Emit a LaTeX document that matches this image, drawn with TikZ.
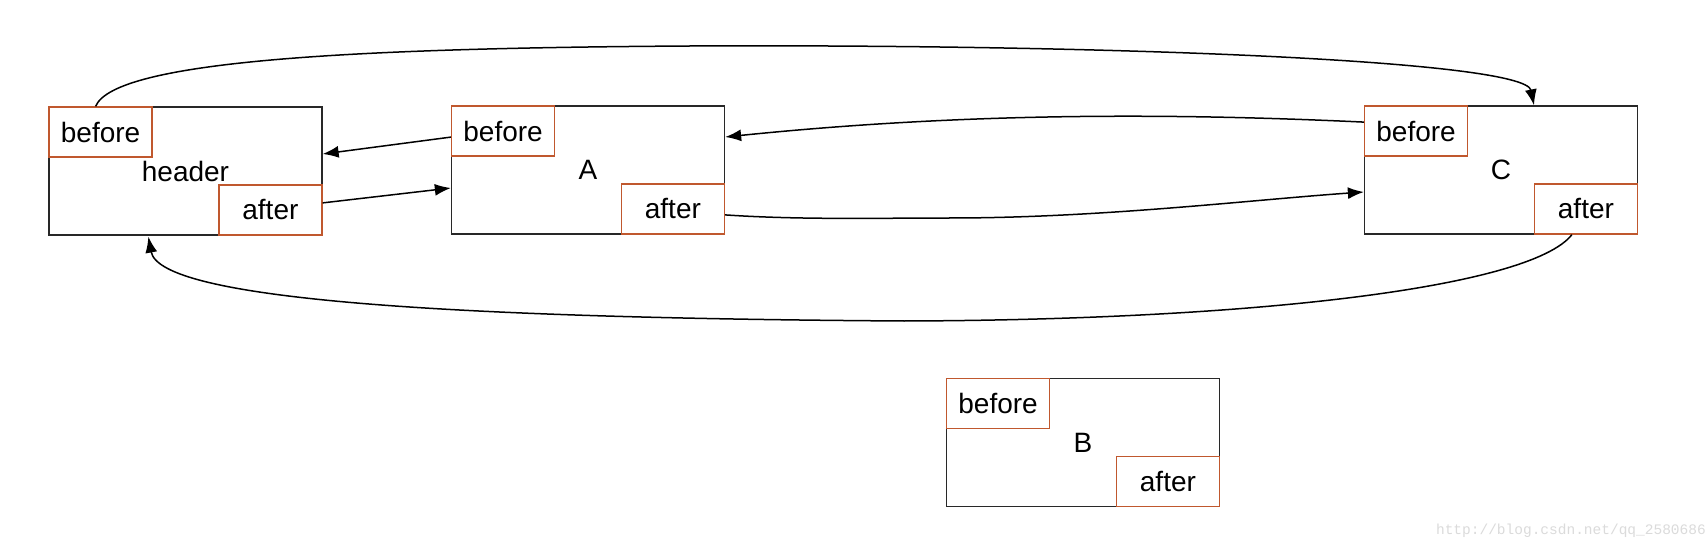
\documentclass[tikz,border=0pt]{standalone}
\usepackage{fontspec}
\usetikzlibrary{arrows.meta,calc}
\newfontfamily\labfont{Liberation Sans}
\newfontfamily\wmfont{Liberation Mono}
\definecolor{ptr}{RGB}{192,88,46}
\definecolor{frame}{RGB}{40,40,40}
\tikzset{
  box/.style={draw=frame, line width=1.3pt, minimum width=273pt, minimum height=128pt, inner sep=0pt,
    font={\labfont\fontsize{28}{30}\selectfont}},
  sub/.style={draw=ptr, line width=1.5pt, minimum width=103pt, minimum height=50pt, inner sep=0pt, fill=white,
    font={\labfont\fontsize{28}{30}\selectfont}},
  link/.style={line width=1.5pt, -{Latex[length=16pt,width=12pt]}}
}
\begin{document}
\begin{tikzpicture}[x=1pt,y=-1pt]
\useasboundingbox[fill=white] (0,0) rectangle (1708,548);
% header
\node[box] (hdr) at (185.5,171) {header};
\node[sub, anchor=north west] (hdrb) at (hdr.north west) {before};
\node[sub, anchor=south east] (hdra) at (hdr.south east) {after};
% A
\node[box] (A) at (588,170) {A};
\node[sub, anchor=north west] (Ab) at (A.north west) {before};
\node[sub, anchor=south east] (Aa) at (A.south east) {after};
% C
\node[box] (C) at (1501,170) {C};
\node[sub, anchor=north west] (Cb) at (C.north west) {before};
\node[sub, anchor=south east] (Ca) at (C.south east) {after};
% B
\node[box] (B) at (1083,442.5) {B};
\node[sub, anchor=north west] (Bb) at (B.north west) {before};
\node[sub, anchor=south east] (Ba) at (B.south east) {after};
% connectors
\draw[link] ($(hdrb.north)+(-5,0)$) .. controls (115,60) and (360,48) .. (690,46)
   .. controls (1100,44) and (1525,60) .. ($(C.north)+(33,0)$);
\draw[link] ($(Ab.west)+(0,6)$) -- ($(hdr.east)+(0,-17)$);
\draw[link] ($(hdra.east)+(0,-7)$) -- ($(A.west)+(0,18)$);
\draw[link] ($(Cb.west)+(0,-9)$) .. controls (1150,112) and (950,114) .. ($(A.east)+(0,-33)$);
\draw[link] ($(Aa.east)+(0,6)$) .. controls (800,220) and (880,218) .. (950,218)
   .. controls (1100,218) and (1250,200) .. ($(C.west)+(0,22)$);
\draw[link] ($(Ca.south)+(-14,0)$) .. controls (1530,288) and (1250,320) .. (904,321)
   .. controls (450,318) and (160,300) .. ($(hdr.south west)+(100,1)$);
% watermark
\node[text=black!14, font={\wmfont\fontsize{14.5}{16}\selectfont}, anchor=east, inner sep=0pt] (wm) at (1706,531) {http://blog.csdn.net/qq\_2580686};
\end{tikzpicture}
\end{document}
